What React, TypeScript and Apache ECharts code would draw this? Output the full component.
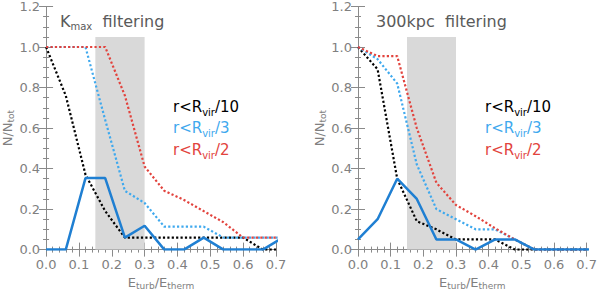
import React, { useEffect, useRef } from "react";
import * as echarts from "echarts";

const xs = [0, 0.06, 0.12, 0.18, 0.24, 0.3, 0.36, 0.42, 0.48, 0.54, 0.6, 0.66, 0.72];

// Left panel: Kmax filtering
const kBlack = [1.0, 0.76, 0.37, 0.19, 0.059, 0.059, 0.059, 0.059, 0.059, 0.059, 0.059, 0.0, 0.0];
const kCyan = [1.0, 1.0, 1.0, 0.64, 0.29, 0.23, 0.113, 0.113, 0.113, 0.059, 0.059, 0.059, 0.059];
const kRed = [1.0, 1.0, 1.0, 1.0, 0.76, 0.41, 0.29, 0.245, 0.19, 0.135, 0.059, 0.059, 0.059];
const kBlue = [0, 0, 0.353, 0.353, 0.059, 0.118, 0, 0, 0.059, 0, 0, 0, 0.059];

// Right panel: 300kpc filtering
const pBlack = [1.0, 0.89, 0.35, 0.14, 0.1, 0.05, 0.05, 0.05, 0.0, 0, 0, 0, 0];
const pCyan = [1.0, 0.94, 0.82, 0.42, 0.2, 0.15, 0.1, 0.1, 0.05, 0, 0, 0, 0];
const pRed = [1.0, 0.955, 0.955, 0.6, 0.33, 0.22, 0.165, 0.105, 0.05, 0, 0, 0, 0];
const pBlue = [0.05, 0.15, 0.35, 0.25, 0.05, 0.05, 0, 0.05, 0.05, 0, 0, 0, 0];

const shadeRange = [0.15, 0.3];
const shadeTop = 1.05;

const titles = ["{m|K}{s|max}{m|  filtering}", "{m|300kpc  filtering}"];
const legendLabels = ["{m|r<R}{s|vir}{m|/10}", "{m|r<R}{s|vir}{m|/3}", "{m|r<R}{s|vir}{m|/2}"];

const C_BLACK = "#000000";
const C_CYAN = "#3fa9ee";
const C_RED = "#e2433d";
const C_BLUE = "#1f7fd2";
const AX = "#8a8a8a";
const FONT = "DejaVu Sans";

const pairs = (ys: number[]) => xs.map((x, i) => [x, ys[i]]);

export default function App() {
  const ref = useRef<HTMLDivElement>(null);
  useEffect(() => {
    if (!ref.current) return;
    const chart = echarts.init(ref.current, null, { renderer: "svg" });

    const grids = [
      { left: 44, top: 4, width: 232, height: 255 },
      { left: 358, top: 4, width: 233, height: 255 },
    ];

    const tickCommon = {
      axisLine: { show: true, lineStyle: { color: AX, width: 1 } },
      axisTick: { show: true, inside: true, length: 7, lineStyle: { color: AX } },
      minorTick: { show: true, length: 3, lineStyle: { color: AX } },
      splitLine: { show: false },
    };

    const nameRich = {
      m: { fontSize: 13, color: "#808080", fontFamily: FONT, lineHeight: 16 },
      s: { fontSize: 9, color: "#808080", fontFamily: FONT, lineHeight: 9, verticalAlign: "bottom" as const },
    };

    const xAxes: any[] = [];
    const yAxes: any[] = [];
    [0, 1].forEach((g) => {
      const xBase = {
        type: "value",
        gridIndex: g,
        min: 0,
        max: 0.7,
        interval: 0.1,
        ...tickCommon,
        minorTick: { ...tickCommon.minorTick, splitNumber: 5 },
      };
      xAxes.push({
        ...xBase,
        position: "bottom",
        axisLabel: {
          show: true,
          margin: 8,
          fontSize: 13,
          color: "#808080",
          fontFamily: FONT,
          formatter: (v: number) => v.toFixed(1),
        },
        name: "{m|E}{s|turb}{m|/E}{s|therm}",
        nameLocation: "middle",
        nameGap: 22,
        nameTextStyle: { rich: nameRich },
      });
      xAxes.push({ ...xBase, position: "top", axisLabel: { show: false } });
      const yBase = {
        type: "value",
        gridIndex: g,
        min: 0,
        max: 1.2,
        interval: 0.2,
        ...tickCommon,
        minorTick: { ...tickCommon.minorTick, splitNumber: 4 },
      };
      yAxes.push({
        ...yBase,
        position: "left",
        axisLabel: {
          show: true,
          margin: 6,
          fontSize: 13,
          color: "#808080",
          fontFamily: FONT,
          formatter: (v: number) => v.toFixed(1),
        },
        name: "{m|N/N}{s|tot}",
        nameLocation: "middle",
        nameRotate: 90,
        nameGap: 29,
        nameTextStyle: { rich: nameRich },
      });
      yAxes.push({ ...yBase, position: "right", axisLabel: { show: false } });
    });

    const dotted = (color: string) => ({ color, width: 2.2, type: [2.2, 2.2] as number[] });

    const panelSeries = (g: number, black: number[], cyan: number[], red: number[], blue: number[]) => [
      {
        type: "line",
        xAxisIndex: g * 2,
        yAxisIndex: g * 2,
        data: [
          [shadeRange[0], 0],
          [shadeRange[1], 0],
        ],
        symbol: "none",
        lineStyle: { opacity: 0 },
        z: 1,
        silent: true,
        markArea: {
          silent: true,
          itemStyle: { color: "#d9d9d9", opacity: 1 },
          data: [[{ xAxis: shadeRange[0], yAxis: 0 }, { xAxis: shadeRange[1], yAxis: shadeTop }]],
        },
      },
      { type: "line", xAxisIndex: g * 2, yAxisIndex: g * 2, data: pairs(black), symbol: "none", lineStyle: dotted(C_BLACK), z: 3 },
      { type: "line", xAxisIndex: g * 2, yAxisIndex: g * 2, data: pairs(cyan), symbol: "none", lineStyle: dotted(C_CYAN), z: 3 },
      { type: "line", xAxisIndex: g * 2, yAxisIndex: g * 2, data: pairs(red), symbol: "none", lineStyle: dotted(C_RED), z: 3 },
      { type: "line", xAxisIndex: g * 2, yAxisIndex: g * 2, data: pairs(blue), symbol: "none", lineStyle: { color: C_BLUE, width: 2.5 }, z: 4 },
    ];

    const richFor = (color: string, size: number) => ({
      m: { fontSize: size, fill: color, color, fontFamily: FONT, lineHeight: 20 },
      s: { fontSize: Math.round(size * 0.65), fill: color, color, fontFamily: FONT, lineHeight: 10, verticalAlign: "bottom" },
    });

    const textEl = (x: number, y: number, text: string, color: string, size: number) => ({
      type: "text",
      x,
      y,
      style: {
        text,
        rich: richFor(color, size),
        fill: color,
        verticalAlign: "middle",
        align: "left",
      },
      z: 10,
    });

    const legendColors = [C_BLACK, C_CYAN, C_RED];
    const legendY = [107, 128, 150];
    const graphic: any[] = [
      textEl(60, 21, titles[0], "#5a5a5a", 16),
      textEl(376, 21, titles[1], "#5a5a5a", 16),
    ];
    [173, 485].forEach((lx) => {
      legendLabels.forEach((t, i) => graphic.push(textEl(lx, legendY[i], t, legendColors[i], 15)));
    });

    chart.setOption({
      animation: false,
      backgroundColor: "#ffffff",
      grid: grids,
      xAxis: xAxes,
      yAxis: yAxes,
      series: [...panelSeries(0, kBlack, kCyan, kRed, kBlue), ...panelSeries(1, pBlack, pCyan, pRed, pBlue)],
      graphic,
    });
    return () => chart.dispose();
  }, []);
  return <div ref={ref} style={{ position: "fixed", left: 0, top: 0, width: 600, height: 295 }} />;
}
